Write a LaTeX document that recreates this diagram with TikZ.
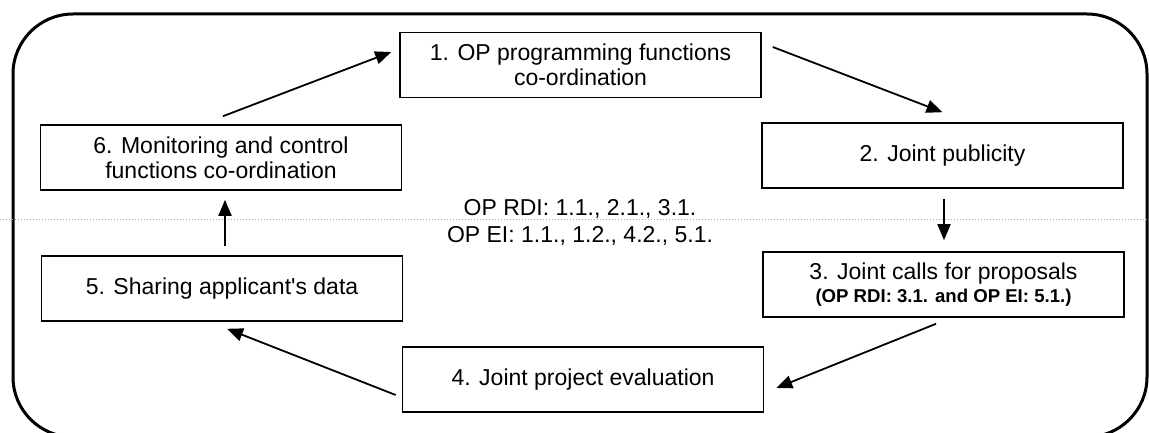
\documentclass[tikz,border=0pt]{standalone}
\usepackage{fontspec}
\setmainfont{Liberation Sans}[Ligatures=TeXOff]
\usetikzlibrary{calc,arrows.meta}
\begin{document}
\begin{tikzpicture}[x=1pt,y=-1pt,
  stepbox/.style={draw=black,line width=1.6pt,inner sep=0pt,align=center,
    font=\fontsize{23}{25}\selectfont,minimum width=361pt,minimum height=65pt},
  arr/.style={line width=1.8pt,-{Triangle[length=16pt,width=13pt]}},
  frame/.style={line width=3pt,rounded corners=60pt},
  scan/.style={gray!70,line width=1pt,dotted}
]
\useasboundingbox (0,0) rectangle (1149,433);
\clip (0,0) rectangle (1149,433);
\fill[white] (0,0) rectangle (1149,433);
\draw[frame] (13,14) rectangle (1147,437);
\draw[scan] (0,219) -- (1149,219);
\node[stepbox] (b1) at (580.5,65) {1. OP programming functions\\co-ordination};
\node[stepbox] (b2) at (942.5,155.5) {2. Joint publicity};
\node[stepbox] (b3) at (943.5,284.5) {3. Joint calls for proposals\\[-2pt]{\fontsize{18.6}{20}\selectfont\bfseries (OP RDI: 3.1. and OP EI: 5.1.)}};
\node[stepbox] (b4) at (583,379.5) {4. Joint project evaluation};
\node[stepbox] (b5) at (222,288.5) {5. Sharing applicant's data};
\node[stepbox] (b6) at (221,157.5) {6. Monitoring and control\\functions co-ordination};
\node[align=center,font=\fontsize{23}{27}\selectfont,inner sep=0pt] (c) at (580,222) {OP RDI: 1.1., 2.1., 3.1.\\OP EI: 1.1., 1.2., 4.2., 5.1.};
\draw[arr] ($(b6.north)+(2,-8)$) -- ($(b1.west)+(-8,-13)$);
\draw[arr] ($(b1.east)+(11,-18)$) -- ($(b2.north)+(0,-10)$);
\draw[arr] ($(b2.south)+(1.5,10)$) -- ($(b3.north)+(0.5,-11)$);
\draw[arr] ($(b3.south)+(-7.5,6)$) -- ($(b4.east)+(12,8.5)$);
\draw[arr] ($(b4.west)+(-6,15.5)$) -- ($(b5.south)+(5,7)$);
\draw[arr] ($(b5.north)+(3,-9)$) -- ($(b6.south)+(4,9)$);
\end{tikzpicture}
\end{document}
